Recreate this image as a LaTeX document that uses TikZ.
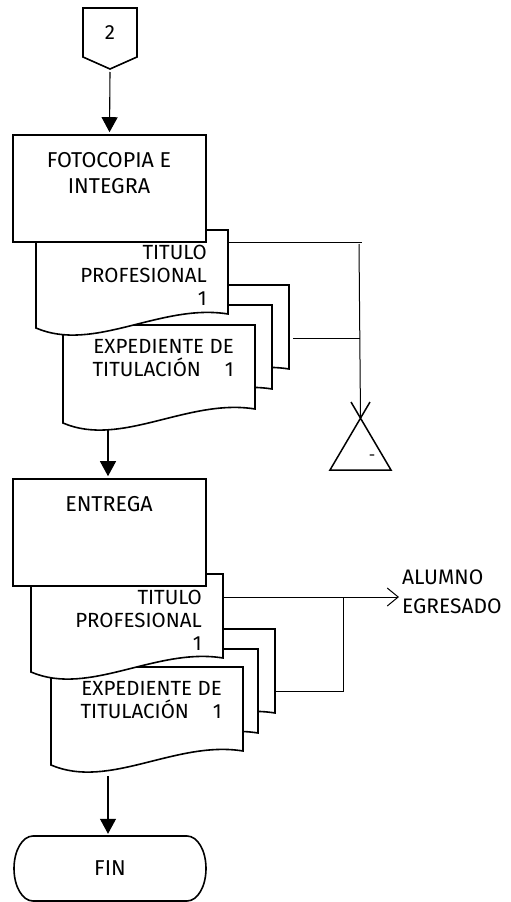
\documentclass[tikz,border=0pt]{standalone}
\usepackage{fontspec}
\setmainfont{Fira Sans}
\usetikzlibrary{arrows.meta}

% document symbol with a wavy lower edge; #1,#2 = top-left corner
\newcommand\docpath[2]{(#1,#2) -- (#1+192,#2) -- (#1+192,#2+84)
  .. controls (#1+125,#2+73) and (#1+58,#2+123) .. (#1,#2+98) -- cycle}

\begin{document}
\begin{tikzpicture}[x=1pt,y=-1pt,
  outline/.style={line width=1.6pt, line join=miter, fill=white},
  link/.style={line width=1pt},
  flow/.style={line width=1.1pt, -{Triangle[width=16pt,length=15pt]}, shorten >=2pt},
  procbox/.style={draw, outline, minimum width=193pt, minimum height=107pt, inner sep=0pt},
  txt/.style={inner sep=0pt, font=\fontsize{20.5}{23}\selectfont},
  boxtxt/.style={txt, align=center, font=\fontsize{21.5}{26.5}\selectfont},
  doctxt/.style={txt, align=right, anchor=east}]

\useasboundingbox (0,0) rectangle (511,902);

% off-page connector
\draw[outline] (83,8) -- (137,8) -- (137,57) -- (110,69) -- (83,57) -- cycle;
\node[txt] (two) at (110,33) {2};
\coordinate (twotip) at (110,72);

% first stack of documents
\draw[outline] \docpath{97}{285};
\draw[outline] \docpath{80}{305};
\draw[outline] \docpath{63}{325};
\draw[outline] \docpath{36}{230};
\node[procbox] (b1) at (109.5,188.5) {};
\node[boxtxt] (b1t) at (109,173) {FOTOCOPIA E\\INTEGRA};
\node[doctxt] (d1t) at (207,275) {TITULO\\PROFESIONAL\\1};
\node[doctxt] (d2t) at (234,358) {EXPEDIENTE DE\\TITULACIÓN\hspace{24pt}1};

\draw[flow] (twotip) -- (b1.north);

% archive symbol and its links
\coordinate (d1r) at (228,242);
\coordinate (tee1) at (362,242);
\coordinate (vtop) at (359,244);
\coordinate (apex) at (360.5,418);
\coordinate (s2r) at (293,338);
\coordinate (vmid) at (360,338);
\draw[link] (d1r) -- (tee1);
\draw[link] (vtop) -- (apex);
\draw[link] (s2r) -- (vmid);
\draw[line width=1.5pt, line join=miter] (351,402) -- (391,470) -- (330,470) -- (370,402);
\node[inner sep=0pt, font=\fontsize{16}{16}\selectfont] (arch) at (372,458) {-};

% second stack of documents
\coordinate (d2b) at (108,430);
\draw[outline] \docpath{83}{629};
\draw[outline] \docpath{66}{649};
\draw[outline] \docpath{51}{667};
\draw[outline] \docpath{31}{574};
\node[procbox] (b2) at (109.5,532.5) {};
\node[boxtxt] (b2t) at (109,504) {ENTREGA};
\node[doctxt] (d3t) at (202,620) {TITULO\\PROFESIONAL\\1};
\node[doctxt] (d4t) at (222,700.5) {EXPEDIENTE DE\\TITULACIÓN\hspace{24pt}1};

\draw[flow] (d2b) -- (d2b |- b2.north);

% delivery to the graduate
\coordinate (d3r) at (223,597);
\coordinate (tee2) at (343,597);
\coordinate (s4r) at (276,691);
\coordinate (out) at (399,597);
\draw[link, -{Straight Barb[length=11pt,width=18pt]}] (d3r) -- (out);
\draw[link] (tee2) |- (s4r);
\node[txt, align=left, anchor=west, font=\fontsize{21}{29}\selectfont] (alumno) at (402,592) {ALUMNO\\EGRESADO};

% terminator
\coordinate (d4b) at (108,776);
\node[txt, font=\fontsize{21.5}{26}\selectfont, minimum width=192pt, minimum height=65pt] (fin) at (110,868.5) {FIN};
\draw[line width=1.6pt] (33,836) -- (187,836)
  .. controls (197.5,836) and (206,850.4) .. (206,868.5)
  .. controls (206,886.6) and (197.5,901) .. (187,901) -- (33,901)
  .. controls (22.5,901) and (14,886.6) .. (14,868.5)
  .. controls (14,850.4) and (22.5,836) .. (33,836) -- cycle;
\draw[flow] (d4b) -- (d4b |- fin.north);

\end{tikzpicture}
\end{document}
